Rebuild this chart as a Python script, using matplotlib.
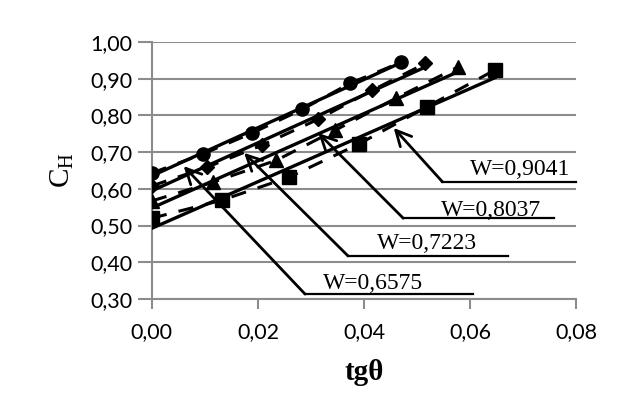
import numpy as np
import matplotlib.pyplot as plt

# datos
x_circ = [0.0, 0.0096, 0.0189, 0.0284, 0.0374, 0.0470]
y_circ = [0.643, 0.695, 0.752, 0.817, 0.888, 0.945]
x_diam = [0.0, 0.0104, 0.0208, 0.0314, 0.0416, 0.0516]
y_diam = [0.608, 0.659, 0.719, 0.790, 0.869, 0.942]
x_tri = [0.0, 0.0115, 0.0235, 0.0346, 0.0460, 0.0577]
y_tri = [0.567, 0.618, 0.678, 0.760, 0.847, 0.932]
x_sq = [0.0, 0.0132, 0.0259, 0.0390, 0.0518, 0.0647]
y_sq = [0.520, 0.569, 0.632, 0.722, 0.823, 0.924]

labels = ['W=0,9041', 'W=0,8037', 'W=0,7223', 'W=0,6575']

fig = plt.figure(figsize=(6.38, 4.05), dpi=100)
ax = fig.add_axes([0.238, 0.262, 0.665, 0.634])

series = [(x_circ, y_circ, 'o'), (x_diam, y_diam, 'D'),
          (x_tri, y_tri, '^'), (x_sq, y_sq, 's')]
for xs, ys, m in series:
    xs = np.array(xs)
    ys = np.array(ys)
    ax.plot(xs, ys, color='black', ls=(0, (5, 4)), lw=2.2, marker=m,
            ms=9.5 if m != 'D' else 7.5, zorder=3)
    k, b = np.polyfit(xs, ys, 1)
    xt = np.array([0, xs[-1]])
    ax.plot(xt, k * xt + b, color='black', lw=2.4, zorder=3)

# flechas con etiquetas subrayadas
arrows = [
    ((0.0456, 0.766), (0.0548, 0.619), 0.080, (0.0600, 0.654)),
    ((0.0314, 0.752), (0.0474, 0.520), 0.0758, (0.0545, 0.542)),
    ((0.0174, 0.698), (0.0370, 0.417), 0.0671, (0.0425, 0.452)),
    ((0.0060, 0.662), (0.0289, 0.313), 0.0605, (0.0322, 0.341)),
]
for lab, (tip, start, xend, tpos) in zip(labels, arrows):
    ax.annotate('', xy=tip, xytext=start,
                arrowprops=dict(arrowstyle='->,head_length=1.1,head_width=0.55',
                                color='black', lw=2, shrinkA=0, shrinkB=0),
                annotation_clip=False, zorder=4)
    ax.plot([start[0], xend], [start[1], start[1]], color='black', lw=1.6,
            clip_on=False, zorder=4)
    ax.text(tpos[0], tpos[1], lab, family='Liberation Serif', fontsize=17,
            va='center', ha='left', zorder=4)

ax.set_xlim(0, 0.08)
ax.set_ylim(0.30, 1.00)
ax.set_xticks([0, 0.02, 0.04, 0.06, 0.08])
ax.set_yticks(np.arange(0.3, 1.001, 0.1))
ax.set_xticklabels(['0,00', '0,02', '0,04', '0,06', '0,08'])
ax.set_yticklabels(['0,30', '0,40', '0,50', '0,60', '0,70', '0,80', '0,90', '1,00'])
ax.yaxis.grid(True, color='#8c8c8c', lw=1.5)
ax.set_axisbelow(True)
for s in ['top', 'right']:
    ax.spines[s].set_visible(False)
for s in ['left', 'bottom']:
    ax.spines[s].set_color('#8c8c8c')
    ax.spines[s].set_linewidth(1.5)
ax.tick_params(axis='both', colors='#8c8c8c', width=1.5,
               labelcolor='black', labelsize=15.5)
for t in ax.get_xticklabels() + ax.get_yticklabels():
    t.set_family('Lato')
ax.tick_params(axis='x', length=7, pad=10)
ax.tick_params(axis='y', length=10, pad=4)

ax.set_ylabel(r'C$_\mathregular{H}$', family='Liberation Serif', fontsize=21,
              rotation=90, labelpad=10)
ax.set_xlabel('tgθ', family='Liberation Serif', fontsize=21, fontweight='bold',
              labelpad=12)

fig.savefig('out.png', dpi=100)
